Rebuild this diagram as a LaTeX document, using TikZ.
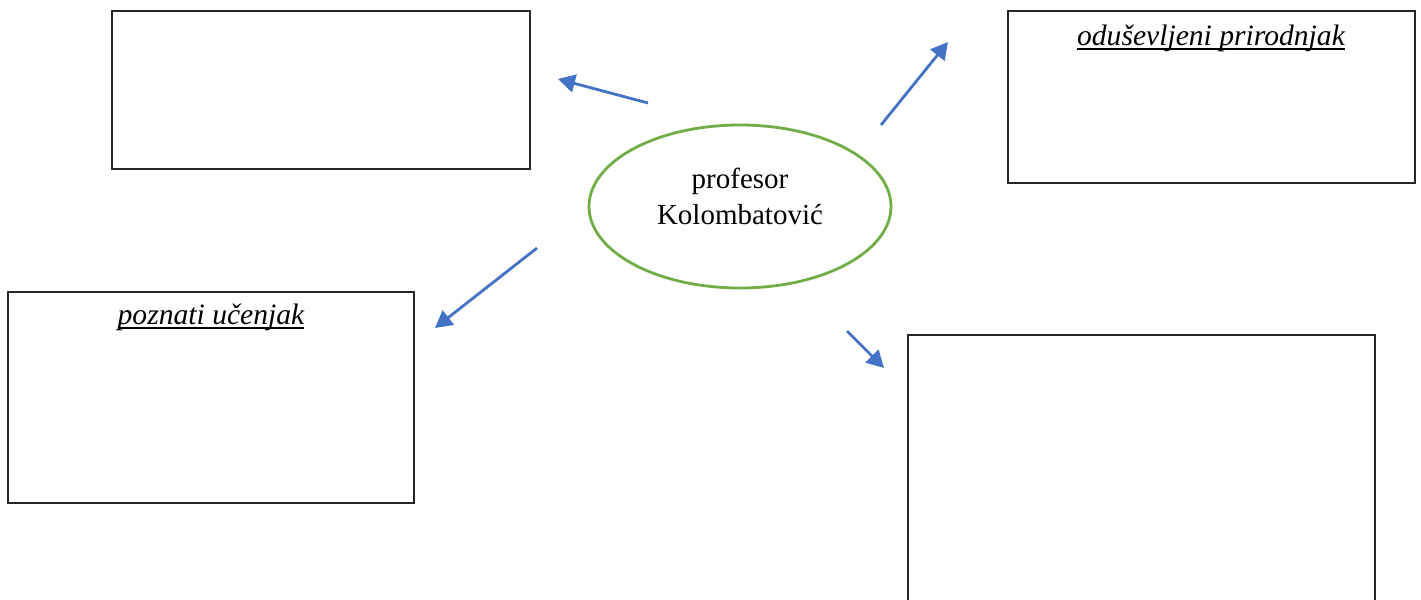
\documentclass[tikz,border=0pt]{standalone}
\usepackage{fontspec}
\setmainfont{Liberation Serif}
\usetikzlibrary{shapes.geometric,arrows.meta}
\definecolor{arrowblue}{HTML}{4472C4}
\definecolor{ellgreen}{HTML}{70AD47}
\newcommand\myul[1]{\setbox0\hbox{#1}\leavevmode\rlap{\rule[-2.6pt]{\wd0}{1pt}}\box0}
\tikzset{
  boxnode/.style={draw=black!85, line width=0.7pt, rectangle, inner sep=0pt, outer sep=0pt, anchor=north west},
  boxlabel/.style={font=\fontsize{14.8pt}{17pt}\selectfont\itshape, anchor=base, inner sep=0pt},
  bluearrow/.style={draw=arrowblue, line width=1.4pt, -{Triangle[length=8.5pt,width=9pt]}},
  centerell/.style={draw=ellgreen, line width=1.4pt, ellipse, inner sep=0pt, minimum width=151pt, minimum height=81.5pt},
  centertext/.style={font=\fontsize{14.5pt}{18pt}\selectfont, anchor=base, inner sep=0pt}
}
\begin{document}
\begin{tikzpicture}[x=0.5pt,y=-0.5pt]
\useasboundingbox (0,0) rectangle (1421,600);
\clip (0,0) rectangle (1421,600);
% boxes
\node[boxnode, minimum width=209pt, minimum height=79pt] (box1) at (112,11) {};
\node[boxnode, minimum width=203.5pt, minimum height=86pt] (box2) at (1008,11) {};
\node[boxnode, minimum width=203pt, minimum height=105.5pt] (box3) at (8,292) {};
\node[boxnode, minimum width=233.5pt, minimum height=160pt] (box4) at (908,335) {};
% box labels
\node[boxlabel] (lab2) at (1211,45) {\myul{oduševljeni prirodnjak}};
\node[boxlabel] (lab3) at (211,324) {\myul{poznati učenjak}};
% central ellipse
\node[centerell] (center) at (740,206.5) {};
\node[centertext] (t1) at (740,188) {profesor};
\node[centertext] (t2) at (740,224) {Kolombatović};
% arrow endpoints
\coordinate (a1s) at (648,103);
\coordinate (a1e) at (558,79);
\coordinate (a2s) at (881,125);
\coordinate (a2e) at (948,42);
\coordinate (a3s) at (537,248);
\coordinate (a3e) at (435,328);
\coordinate (a4s) at (847,331);
\coordinate (a4e) at (884,368);
\draw[bluearrow] (a1s) -- (a1e);
\draw[bluearrow] (a2s) -- (a2e);
\draw[bluearrow] (a3s) -- (a3e);
\draw[bluearrow] (a4s) -- (a4e);
\end{tikzpicture}
\end{document}
